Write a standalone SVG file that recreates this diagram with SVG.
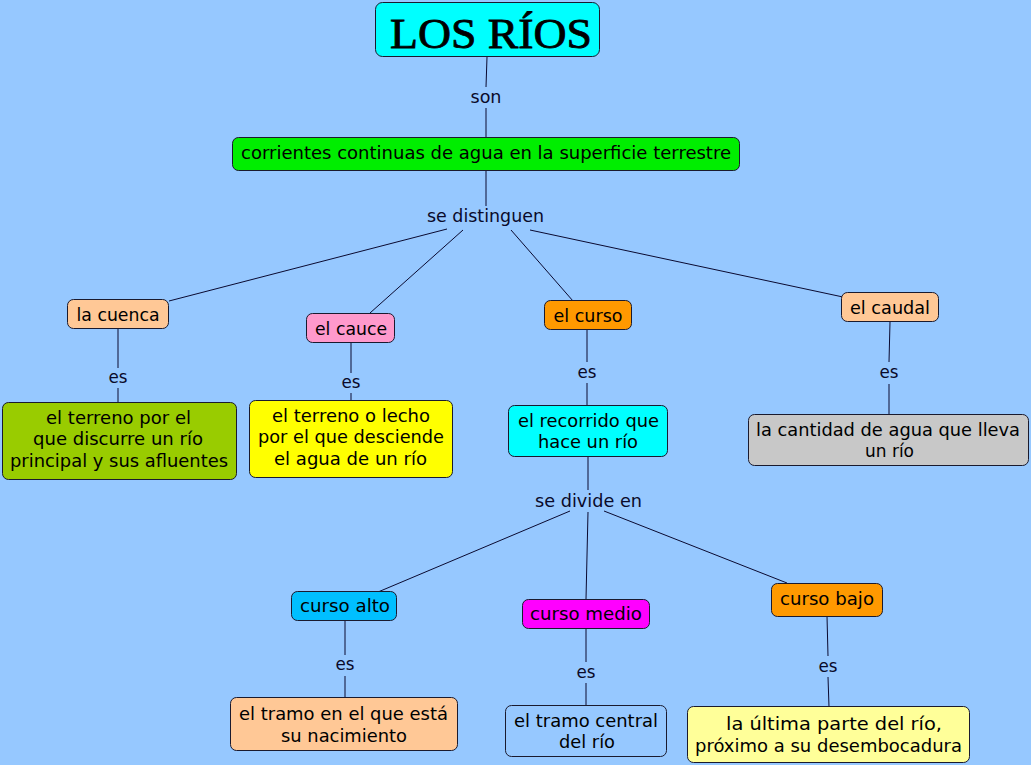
<svg xmlns="http://www.w3.org/2000/svg" width="1031" height="765" viewBox="0 0 1031 765">
<style>
.bx{stroke:#1a1a2e;stroke-width:1}
.t{font-family:"DejaVu Sans",Verdana,sans-serif;font-size:17px;fill:#000;text-anchor:middle}
.lk{font-family:"DejaVu Sans",Verdana,sans-serif;font-size:17.5px;fill:#0a0a2a;text-anchor:middle}
.ln{stroke:#0a0a30;stroke-width:1;fill:none}
</style>
<rect width="1031" height="765" fill="#96C8FF"/>
<g id="connectors">
<path class="ln" d="M487,57 L486,87 M486,108 L486,137"/>
<path class="ln" d="M486,170 L486,206"/>
<path class="ln" d="M447,229 L169,301 M463,230 L370,313 M511,230 L573,301 M530,230 L843,297"/>
<path class="ln" d="M118,328 L118,368 M118,388 L118,403"/>
<path class="ln" d="M351,342 L351,373 M351,393 L351,401"/>
<path class="ln" d="M587,329 L587,362 M587,383 L587,406"/>
<path class="ln" d="M588,456 L588,490"/>
<path class="ln" d="M570,511 L378,592 M588,512 L586,599 M604,511 L787,583"/>
<path class="ln" d="M890,322 L889,362 M889,384 L889,414"/>
<path class="ln" d="M345,621 L345,655 M345,676 L345,697"/>
<path class="ln" d="M586,628 L586,662 M586,683 L586,705"/>
<path class="ln" d="M827,616 L828,656 M828,677 L829,707"/>
<text class="lk" x="486" y="103" textLength="31" lengthAdjust="spacingAndGlyphs">son</text>
<text class="lk" x="485.5" y="222" textLength="117" lengthAdjust="spacingAndGlyphs">se distinguen</text>
<text class="lk" x="118" y="383" textLength="19" lengthAdjust="spacingAndGlyphs">es</text>
<text class="lk" x="351" y="388" textLength="19" lengthAdjust="spacingAndGlyphs">es</text>
<text class="lk" x="587" y="378" textLength="19" lengthAdjust="spacingAndGlyphs">es</text>
<text class="lk" x="889" y="378" textLength="19" lengthAdjust="spacingAndGlyphs">es</text>
<text class="lk" x="588.5" y="507" textLength="107" lengthAdjust="spacingAndGlyphs">se divide en</text>
<text class="lk" x="345" y="670" textLength="19" lengthAdjust="spacingAndGlyphs">es</text>
<text class="lk" x="586" y="678" textLength="19" lengthAdjust="spacingAndGlyphs">es</text>
<text class="lk" x="828" y="672" textLength="19" lengthAdjust="spacingAndGlyphs">es</text>
</g>
<g id="title">
<rect class="bx" x="375.5" y="2.5" width="224" height="54" rx="7" fill="#00FFFF"/>
<text x="491" y="48" font-family="'Liberation Serif','Times New Roman',serif" font-size="43" text-anchor="middle" textLength="202" lengthAdjust="spacingAndGlyphs" fill="#000" stroke="#000" stroke-width="0.8">LOS RÍOS</text>
</g>
<g id="corrientes">
<rect class="bx" x="232.5" y="137.5" width="507" height="33" rx="6" fill="#00EE00"/>
<text class="t" x="486" y="159" textLength="490" lengthAdjust="spacingAndGlyphs">corrientes continuas de agua en la superficie terrestre</text>
</g>
<g id="cuenca">
<rect class="bx" x="67.5" y="299.5" width="101" height="29" rx="6" fill="#FFC896"/>
<text class="t" x="118" y="321" textLength="83" lengthAdjust="spacingAndGlyphs">la cuenca</text>
</g>
<g id="cauce">
<rect class="bx" x="306.5" y="313.5" width="88" height="29" rx="6" fill="#FF99CC"/>
<text class="t" x="351" y="335" textLength="72" lengthAdjust="spacingAndGlyphs">el cauce</text>
</g>
<g id="curso">
<rect class="bx" x="544.5" y="300.5" width="87" height="29" rx="6" fill="#FF9900"/>
<text class="t" x="588" y="322" textLength="69" lengthAdjust="spacingAndGlyphs">el curso</text>
</g>
<g id="caudal">
<rect class="bx" x="841.5" y="292.5" width="97" height="29" rx="6" fill="#FFC896"/>
<text class="t" x="890" y="314" textLength="80" lengthAdjust="spacingAndGlyphs">el caudal</text>
</g>
<g id="terreno-cuenca">
<rect class="bx" x="2.5" y="402.5" width="234" height="77" rx="6" fill="#99CC00"/>
<text class="t" x="118.5" y="424" textLength="145" lengthAdjust="spacingAndGlyphs">el terreno por el</text>
<text class="t" x="118" y="445" textLength="170" lengthAdjust="spacingAndGlyphs">que discurre un río</text>
<text class="t" x="119" y="467" textLength="218" lengthAdjust="spacingAndGlyphs">principal y sus afluentes</text>
</g>
<g id="terreno-cauce">
<rect class="bx" x="249.5" y="400.5" width="203" height="77" rx="6" fill="#FFFF00"/>
<text class="t" x="351" y="422" textLength="158" lengthAdjust="spacingAndGlyphs">el terreno o lecho</text>
<text class="t" x="351" y="443" textLength="186" lengthAdjust="spacingAndGlyphs">por el que desciende</text>
<text class="t" x="350.5" y="465" textLength="153" lengthAdjust="spacingAndGlyphs">el agua de un río</text>
</g>
<g id="recorrido">
<rect class="bx" x="508.5" y="405.5" width="159" height="51" rx="6" fill="#00FFFF"/>
<text class="t" x="588.5" y="427" textLength="141" lengthAdjust="spacingAndGlyphs">el recorrido que</text>
<text class="t" x="588" y="448" textLength="100" lengthAdjust="spacingAndGlyphs">hace un río</text>
</g>
<g id="cantidad">
<rect class="bx" x="748.5" y="414.5" width="280" height="51" rx="6" fill="#C8C8C8"/>
<text class="t" x="888" y="436" textLength="264" lengthAdjust="spacingAndGlyphs">la cantidad de agua que lleva</text>
<text class="t" x="889.5" y="457" textLength="49" lengthAdjust="spacingAndGlyphs">un río</text>
</g>
<g id="curso-alto">
<rect class="bx" x="291.5" y="591.5" width="105" height="29" rx="6" fill="#00BFFF"/>
<text class="t" x="345" y="612" textLength="90" lengthAdjust="spacingAndGlyphs">curso alto</text>
</g>
<g id="curso-medio">
<rect class="bx" x="522.5" y="599.5" width="127" height="29" rx="6" fill="#FF00FF"/>
<text class="t" x="586" y="620" textLength="112" lengthAdjust="spacingAndGlyphs">curso medio</text>
</g>
<g id="curso-bajo">
<rect class="bx" x="771.5" y="583.5" width="111" height="33" rx="6" fill="#FF9900"/>
<text class="t" x="827" y="605" textLength="94" lengthAdjust="spacingAndGlyphs">curso bajo</text>
</g>
<g id="tramo-nacimiento">
<rect class="bx" x="230.5" y="697.5" width="227" height="53" rx="6" fill="#FFC896"/>
<text class="t" x="343.5" y="720" textLength="209" lengthAdjust="spacingAndGlyphs">el tramo en el que está</text>
<text class="t" x="344" y="742" textLength="126" lengthAdjust="spacingAndGlyphs">su nacimiento</text>
</g>
<g id="tramo-central">
<rect class="bx" x="505.5" y="705.5" width="161" height="51" rx="6" fill="#96C8FF"/>
<text class="t" x="586" y="727" textLength="144" lengthAdjust="spacingAndGlyphs">el tramo central</text>
<text class="t" x="587" y="748" textLength="56" lengthAdjust="spacingAndGlyphs">del río</text>
</g>
<g id="ultima-parte">
<rect class="bx" x="687.5" y="706.5" width="282" height="56" rx="6" fill="#FFFF99"/>
<text class="t" x="834" y="730" textLength="216" lengthAdjust="spacingAndGlyphs">la última parte del río,</text>
<text class="t" x="828.5" y="752" textLength="267" lengthAdjust="spacingAndGlyphs">próximo a su desembocadura</text>
</g>
</svg>
